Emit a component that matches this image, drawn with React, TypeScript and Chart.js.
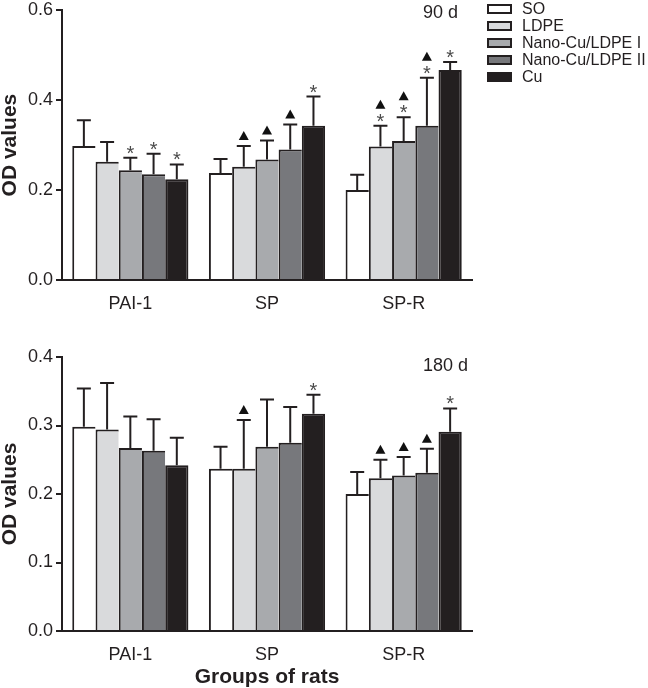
import React, { useEffect, useRef } from 'react';
import { Chart, registerables } from 'chart.js';

Chart.register(...registerables);

const FONT = '"Liberation Sans", Arial, Helvetica, sans-serif';
const INK = '#231f20';

const categories = ['PAI-1', 'SP', 'SP-R'];
const seriesNames = ['SO', 'LDPE', 'Nano-Cu/LDPE I', 'Nano-Cu/LDPE II', 'Cu'];
const seriesColors = ['#ffffff', '#d9dadc', '#a8aaad', '#77787c', '#231f20'];

// 90 d means and upper error (SD)
const so90 = [0.298, 0.238, 0.2];
const ldpe90 = [0.263, 0.252, 0.297];
const nanoI90 = [0.244, 0.268, 0.309];
const nanoII90 = [0.235, 0.29, 0.343];
const cu90 = [0.224, 0.343, 0.467];
const so90Err = [0.057, 0.031, 0.034];
const ldpe90Err = [0.044, 0.046, 0.046];
const nanoI90Err = [0.028, 0.042, 0.053];
const nanoII90Err = [0.046, 0.056, 0.107];
const cu90Err = [0.033, 0.065, 0.018];
const so90Marks = ['', '', ''];
const ldpe90Marks = ['', '▲', '▲*'];
const nanoI90Marks = ['*', '▲', '▲*'];
const nanoII90Marks = ['*', '▲', '▲*'];
const cu90Marks = ['*', '*', '*'];

// 180 d means and upper error (SD)
const so180 = [0.298, 0.237, 0.2];
const ldpe180 = [0.294, 0.237, 0.223];
const nanoI180 = [0.267, 0.269, 0.227];
const nanoII180 = [0.263, 0.275, 0.231];
const cu180 = [0.242, 0.317, 0.291];
const so180Err = [0.056, 0.032, 0.032];
const ldpe180Err = [0.068, 0.071, 0.027];
const nanoI180Err = [0.046, 0.069, 0.027];
const nanoII180Err = [0.046, 0.052, 0.035];
const cu180Err = [0.04, 0.028, 0.034];
const so180Marks = ['', '', ''];
const ldpe180Marks = ['', '▲', '▲'];
const nanoI180Marks = ['', '', '▲'];
const nanoII180Marks = ['', '', '▲'];
const cu180Marks = ['', '*', '*'];

const yTicks90 = { max: 0.6, step: 0.2 };
const yTicks180 = { max: 0.4, step: 0.1 };

type PanelSpec = {
  values: number[][];
  errs: number[][];
  marks: string[][];
  yMax: number;
  yStep: number;
  period: string;
  periodX: number;
  periodY: number;
  legend: boolean;
  xTitle: boolean;
  padTop: number;
  xHeight: number;
  height: number;
};

function makeOverlay(spec: PanelSpec) {
  return {
    id: 'overlay',
    afterDatasetsDraw(chart: any) {
      const ctx = chart.ctx as CanvasRenderingContext2D;
      const yScale = chart.scales.y;
      ctx.save();
      chart.data.datasets.forEach((ds: any, di: number) => {
        const meta = chart.getDatasetMeta(di);
        meta.data.forEach((bar: any, i: number) => {
          const v = ds.data[i];
          const top = yScale.getPixelForValue(v + spec.errs[di][i]);
          const x = bar.x;
          ctx.strokeStyle = INK;
          ctx.lineWidth = 2;
          ctx.beginPath();
          ctx.moveTo(x, bar.y);
          ctx.lineTo(x, top);
          ctx.moveTo(x - 7, top);
          ctx.lineTo(x + 7, top);
          ctx.stroke();
          const m = spec.marks[di][i];
          const hasStar = m.includes('*');
          const hasTri = m.includes('▲');
          if (hasStar) {
            ctx.fillStyle = '#4a4a4a';
            ctx.font = `20px ${FONT}`;
            ctx.textAlign = 'center';
            ctx.textBaseline = 'alphabetic';
            ctx.fillText('*', x, top + 2);
          }
          if (hasTri) {
            const b = hasStar ? top - 17 : top - 6;
            ctx.fillStyle = '#111111';
            ctx.beginPath();
            ctx.moveTo(x - 5, b);
            ctx.lineTo(x + 5, b);
            ctx.lineTo(x, b - 9);
            ctx.closePath();
            ctx.fill();
          }
        });
      });
      // period label
      ctx.fillStyle = INK;
      ctx.font = `18px ${FONT}`;
      ctx.textAlign = 'right';
      ctx.textBaseline = 'middle';
      ctx.fillText(spec.period, spec.periodX, spec.periodY);
      // legend
      if (spec.legend) {
        const rowY = [9, 26, 43, 60, 77];
        chart.data.datasets.forEach((ds: any, di: number) => {
          const yc = rowY[di];
          ctx.fillStyle = ds.backgroundColor;
          ctx.fillRect(487, yc - 5, 25, 10);
          ctx.strokeStyle = INK;
          ctx.lineWidth = 2;
          ctx.strokeRect(488, yc - 4, 23, 8);
          ctx.fillStyle = INK;
          ctx.font = `16px ${FONT}`;
          ctx.textAlign = 'left';
          ctx.textBaseline = 'middle';
          ctx.fillText(ds.label, 522, yc + 1);
        });
      }
      ctx.restore();
    },
  };
}

function BarPanel({ spec }: { spec: PanelSpec }) {
  const ref = useRef<HTMLCanvasElement>(null);
  useEffect(() => {
    const chart = new Chart(ref.current as HTMLCanvasElement, {
      type: 'bar',
      data: {
        labels: categories,
        datasets: seriesNames.map((name, di) => ({
          label: name,
          data: spec.values[di],
          backgroundColor: seriesColors[di],
          borderColor: INK,
          borderWidth: { top: 2, left: 2, right: di === seriesNames.length - 1 ? 2 : 0, bottom: 0 },
          borderSkipped: 'start',
          barPercentage: 1,
          categoryPercentage: 0.85,
        })),
      },
      options: {
        responsive: false,
        animation: false,
        devicePixelRatio: 1,
        events: [],
        layout: { padding: { left: 0, right: 176, top: spec.padTop, bottom: 0 } },
        plugins: {
          legend: { display: false },
          tooltip: { enabled: false },
          title: { display: false },
        },
        scales: {
          x: {
            type: 'category',
            offset: true,
            grid: { display: false, drawTicks: false },
            border: { display: true, color: INK, width: 2 },
            ticks: { color: INK, font: { family: FONT, size: 18 }, padding: 13 },
            title: {
              display: spec.xTitle,
              text: 'Groups of rats',
              color: INK,
              font: { family: FONT, size: 21, weight: 'bold', lineHeight: 1 },
              padding: { top: 0, bottom: 0 },
            },
            afterFit: (s: any) => {
              s.height = spec.xHeight;
            },
          },
          y: {
            min: 0,
            max: spec.yMax,
            ticks: {
              stepSize: spec.yStep,
              color: INK,
              font: { family: FONT, size: 18, lineHeight: 0.8 },
              padding: 3,
              callback: (v: any) => Number(v).toFixed(1),
            },
            grid: {
              display: true,
              drawOnChartArea: false,
              drawTicks: true,
              tickLength: 6,
              color: INK,
              lineWidth: 2,
            },
            border: { display: true, color: INK, width: 2 },
            title: {
              display: true,
              text: 'OD values',
              color: INK,
              font: { family: FONT, size: 21, weight: 'bold', lineHeight: 1 },
              padding: { top: 0, bottom: 0 },
            },
            afterFit: (s: any) => {
              s.width = 62;
            },
          },
        },
      } as any,
      plugins: [makeOverlay(spec)],
    });
    return () => chart.destroy();
  }, []);
  return <canvas ref={ref} width={648} height={spec.height} style={{ display: 'block' }} />;
}

const panel90: PanelSpec = {
  values: [so90, ldpe90, nanoI90, nanoII90, cu90],
  errs: [so90Err, ldpe90Err, nanoI90Err, nanoII90Err, cu90Err],
  marks: [so90Marks, ldpe90Marks, nanoI90Marks, nanoII90Marks, cu90Marks],
  yMax: yTicks90.max,
  yStep: yTicks90.step,
  period: '90 d',
  periodX: 458,
  periodY: 13,
  legend: true,
  xTitle: false,
  padTop: 8,
  xHeight: 50,
  height: 330,
};

const panel180: PanelSpec = {
  values: [so180, ldpe180, nanoI180, nanoII180, cu180],
  errs: [so180Err, ldpe180Err, nanoI180Err, nanoII180Err, cu180Err],
  marks: [so180Marks, ldpe180Marks, nanoI180Marks, nanoII180Marks, cu180Marks],
  yMax: yTicks180.max,
  yStep: yTicks180.step,
  period: '180 d',
  periodX: 468,
  periodY: 36,
  legend: false,
  xTitle: true,
  padTop: 27,
  xHeight: 57,
  height: 358,
};

export default function App() {
  return (
    <div style={{ position: 'absolute', left: 0, top: 0, width: 648, height: 688, background: '#ffffff' }}>
      <BarPanel spec={panel90} />
      <BarPanel spec={panel180} />
    </div>
  );
}
